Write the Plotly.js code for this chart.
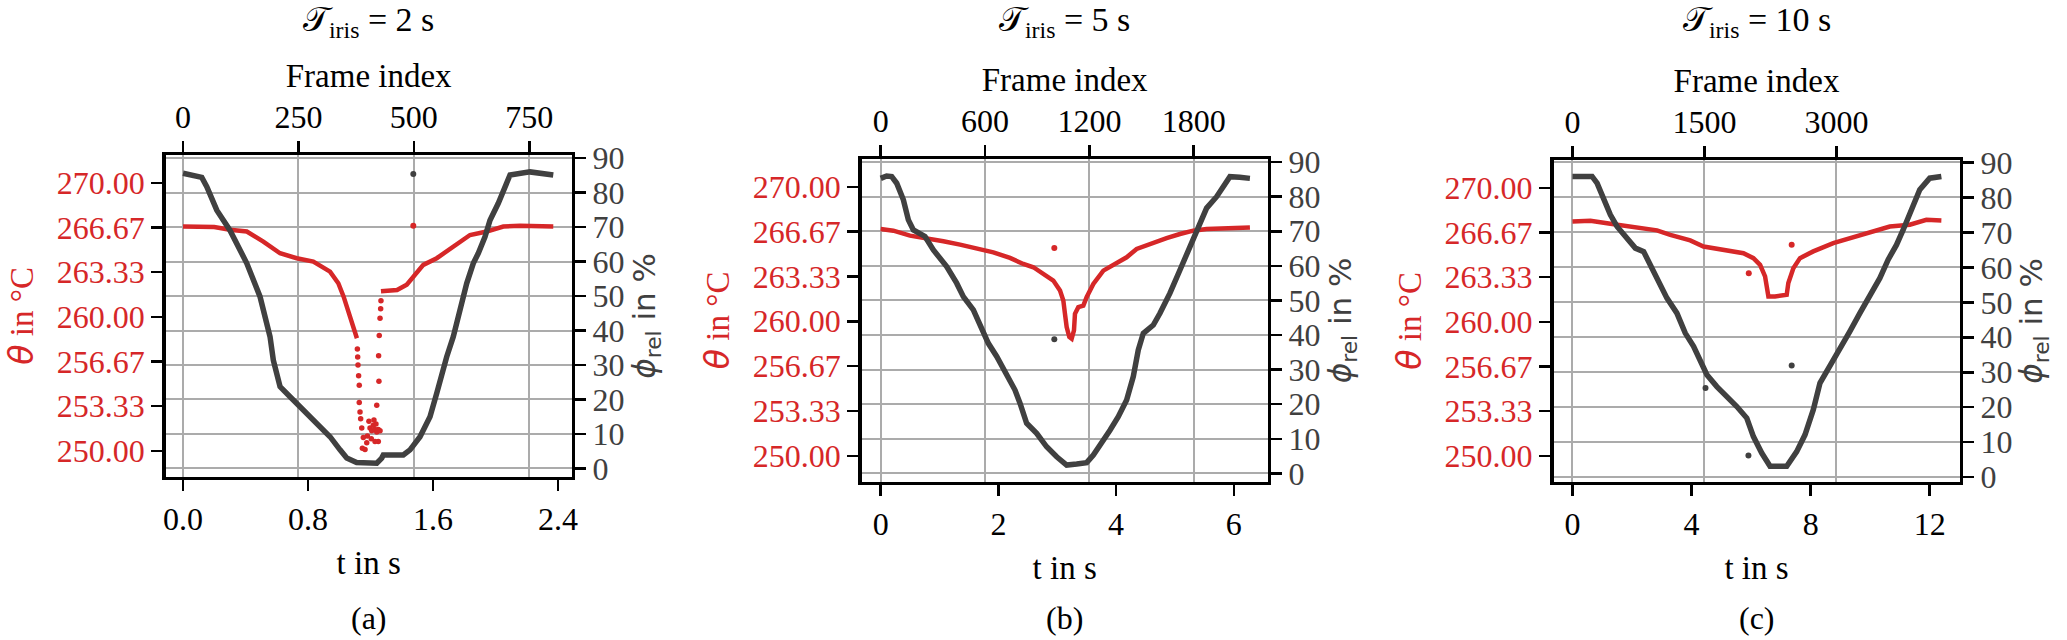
<!DOCTYPE html>
<html>
<head>
<meta charset="utf-8">
<script src="https://cdn.plot.ly/plotly-3.0.1.min.js"></script>
<style>
  html, body { margin: 0; padding: 0; background: #fff; }
  #chart { width: 2067px; height: 640px; }
</style>
</head>
<body>
<div id="chart"></div>
<script>
  "use strict";

  const FPS = 338.4;

  // ---- panel (a), T_iris = 2 s ----
  const aPhiT = [0, 0.06, 0.12, 0.152, 0.216, 0.30, 0.408, 0.493, 0.557, 0.578, 0.60, 0.621, 0.685, 0.77, 0.856,
    0.941, 1.005, 1.048, 1.111, 1.24, 1.272, 1.282, 1.41, 1.453, 1.517, 1.581, 1.624, 1.645, 1.688, 1.73, 1.773,
    1.816, 1.858, 1.89, 1.933, 1.965, 2.018, 2.05, 2.093, 2.221, 2.37];
  const aPhi = [85.6, 85.2, 84.4, 81.7, 74.9, 69.1, 59.5, 49.8, 38.2, 31.4, 27.6, 23.7, 20.8, 17.0, 13.1,
    9.2, 5.4, 3.0, 1.7, 1.5, 3.0, 3.9, 3.9, 5.4, 9.2, 15.0, 21.8, 25.7, 32.4, 38.2, 45.9,
    53.7, 59.5, 62.4, 67.2, 72.0, 76.9, 80.7, 85.1, 86.0, 85.1];
  const aTempT = [0, 0.10, 0.20, 0.30, 0.408, 0.514, 0.621, 0.728, 0.834, 0.941, 0.994, 1.028, 1.07, 1.10, 1.113,
    null, 1.267, 1.37, 1.432, 1.474, 1.538, 1.624, 1.73, 1.837, 1.944, 2.05, 2.157, 2.37];
  const aTemp = [266.73, 266.75, 266.70, 266.49, 266.36, 265.61, 264.74, 264.37, 264.12, 263.37, 262.5, 261.5, 260.0, 259.0, 258.4,
    null, 261.9, 262.0, 262.4, 263.0, 263.87, 264.37, 265.24, 266.1, 266.36, 266.73, 266.79, 266.73];
  // single frames inside the fast temperature drop
  const aDipT = [1.116, 1.118, 1.120, 1.124, 1.128, 1.128, 1.133, 1.137, 1.144, 1.154, 1.148, 1.165, 1.176, 1.180,
    1.19, 1.197, 1.205, 1.208, 1.218, 1.222, 1.229, 1.235, 1.240, 1.250, 1.229, 1.250, 1.261, 1.240, 1.254,
    1.252, 1.256, 1.261, 1.265, 1.267];
  const aDip = [257.6, 257.0, 256.4, 255.6, 254.9, 253.6, 252.9, 252.4, 251.7, 251.0, 250.2, 250.1, 250.6, 251.1,
    252.2, 251.7, 250.9, 251.5, 251.9, 252.3, 251.6, 252.0, 251.4, 250.7, 250.7, 251.6, 251.5, 253.4, 255.2,
    257.1, 258.6, 259.9, 260.6, 261.2];
  const aOutT = [1.474];
  const aOutPhi = [85.4];
  const aOutTemp = [266.8];

  // ---- panel (b), T_iris = 5 s ----
  const bPhiT = [0, 0.1, 0.187, 0.272, 0.385, 0.47, 0.555, 0.753, 0.895, 1.121, 1.291, 1.404, 1.574, 1.716, 1.829,
    1.971, 2.141, 2.282, 2.367, 2.48, 2.65, 2.82, 2.99, 3.16, 3.33, 3.50, 3.613, 3.754, 3.896, 4.037, 4.179,
    4.292, 4.377, 4.462, 4.632, 4.745, 4.915, 5.085, 5.255, 5.368, 5.538, 5.708, 5.85, 5.934, 6.1, 6.274];
  const bPhi = [85.3, 86.0, 85.8, 83.9, 79.1, 73.3, 70.4, 68.5, 64.6, 59.8, 55.0, 51.1, 47.3, 42.4, 37.6,
    33.8, 28.9, 24.1, 20.3, 14.5, 11.6, 7.7, 4.8, 2.4, 2.7, 3.1, 5.3, 8.7, 12.5, 16.4, 21.2,
    28.0, 35.7, 40.5, 42.9, 46.3, 52.1, 58.8, 65.6, 70.4, 76.7, 80.0, 83.4, 85.8, 85.6, 85.3];
  const bTempT = [0, 0.215, 0.498, 0.781, 1.065, 1.348, 1.631, 1.914, 2.197, 2.424, 2.594, 2.763, 2.933, 3.047,
    3.103, 3.131, 3.16, 3.205, 3.245, 3.284, 3.301, 3.358, 3.443, 3.499, 3.613, 3.783, 4.009, 4.179, 4.349,
    4.575, 4.858, 5.085, 5.311, 5.538, 5.878, 6.274];
  const bTemp = [266.86, 266.74, 266.37, 266.19, 265.95, 265.70, 265.38, 265.13, 264.71, 264.26, 264.02, 263.52, 263.03, 262.29,
    261.55, 260.56, 259.57, 258.83, 258.70, 259.32, 260.56, 261.05, 261.17, 261.79, 262.78, 263.77, 264.39, 264.76, 265.38,
    265.75, 266.19, 266.49, 266.74, 266.86, 266.93, 266.98];
  const bDipT = [];
  const bDip = [];
  const bOutT = [2.95];
  const bOutPhi = [38.8];
  const bOutTemp = [265.45];

  // ---- panel (c), T_iris = 10 s ----
  const cPhiT = [0, 0.3, 0.659, 0.827, 1.05, 1.274, 1.497, 1.777, 2.112, 2.391, 2.615, 2.894, 3.173, 3.508, 3.788,
    4.067, 4.291, 4.514, 4.849, 5.184, 5.520, 5.855, 6.078, 6.358, 6.637, 7.196, 7.531, 7.81, 8.09, 8.313,
    8.648, 8.983, 9.318, 9.654, 9.989, 10.324, 10.603, 10.883, 11.106, 11.385, 11.665, 12.0, 12.391];
  const cPhi = [86.0, 86.1, 86.0, 84.1, 79.8, 75.0, 71.7, 68.8, 65.5, 64.5, 60.7, 55.5, 51.2, 46.9, 41.2,
    37.4, 33.6, 29.3, 25.9, 23.1, 20.2, 16.9, 11.6, 6.9, 3.1, 3.1, 7.3, 12.1, 19.3, 26.9,
    32.1, 36.9, 41.7, 46.9, 52.1, 56.9, 62.2, 66.4, 70.7, 76.5, 82.2, 85.5, 86.0];
  const cTempT = [0, 0.603, 1.274, 2.056, 2.838, 3.285, 3.955, 4.402, 5.073, 5.743, 6.078, 6.302, 6.469, 6.581,
    6.804, 7.196, 7.251, 7.419, 7.642, 8.089, 8.76, 9.318, 9.989, 10.66, 11.33, 11.888, 12.391];
  const cTemp = [267.49, 267.54, 267.31, 267.06, 266.82, 266.49, 266.07, 265.62, 265.37, 265.12, 264.75, 264.25, 263.38, 261.89,
    261.89, 262.01, 262.89, 264.0, 264.75, 265.25, 265.87, 266.24, 266.74, 267.11, 267.24, 267.61, 267.56];
  const cDipT = [];
  const cDip = [];
  const cOutPhiT = [4.469, 5.911, 7.363];
  const cOutPhi = [25.5, 6.2, 31.9];
  const cOutTempT = [5.922, 7.363];
  const cOutTemp = [263.63, 265.75];

  // ---- ticks ----
  const tempTicks = [250, 253.333, 256.667, 260, 263.333, 266.667, 270];
  const tempTickText = ['250.00', '253.33', '256.67', '260.00', '263.33', '266.67', '270.00'];
  const phiTicks = [0, 10, 20, 30, 40, 50, 60, 70, 80, 90];
  const aTimeTicks = [0, 0.8, 1.6, 2.4];
  const aTimeTickText = ['0.0', '0.8', '1.6', '2.4'];
  const bTimeTicks = [0, 2, 4, 6];
  const cTimeTicks = [0, 4, 8, 12];
  const aFrameTicks = [0, 250, 500, 750];
  const bFrameTicks = [0, 600, 1200, 1800];
  const cFrameTicks = [0, 1500, 3000];
  const irisTimes = ['2', '5', '10'];
  const captions = ['(a)', '(b)', '(c)'];

  const RED = '#d62728', GRAY = '#404040', GRID = '#ababab';
  const SERIF = 'Liberation Serif, Times New Roman, serif';
  const SANS = 'DejaVu Sans, sans-serif';
  const W = 2067, H = 640;

  // box edges in pixels for the three panels
  let panels = [
    {left: 165.7, right: 571.7, top: 155, bottom: 476.7, tRange: [-0.111, 2.488], phiRange: [-2.4, 90.9],
      tTicks: aTimeTicks, tText: aTimeTickText, fTicks: aFrameTicks,
      phi: [aPhiT, aPhi], temp: [aTempT, aTemp], dip: [aDipT, aDip],
      outPhi: [aOutT, aOutPhi], outTemp: [aOutT, aOutTemp]},
    {left: 861.7, right: 1267.7, top: 159, bottom: 481.7, tRange: [-0.323, 6.576], phiRange: [-2.4, 90.9],
      tTicks: bTimeTicks, tText: bTimeTicks.map(String), fTicks: bFrameTicks,
      phi: [bPhiT, bPhi], temp: [bTempT, bTemp], dip: [bDipT, bDip],
      outPhi: [bOutT, bOutPhi], outTemp: [bOutT, bOutTemp]},
    {left: 1553.5, right: 1959.5, top: 160, bottom: 481.7, tRange: [-0.637, 13.0], phiRange: [-1.3, 90.7],
      tTicks: cTimeTicks, tText: cTimeTicks.map(String), fTicks: cFrameTicks,
      phi: [cPhiT, cPhi], temp: [cTempT, cTemp], dip: [cDipT, cDip],
      outPhi: [cOutPhiT, cOutPhi], outTemp: [cOutTempT, cOutTemp]},
  ];

  let traces = [], annotations = [];
  let layout = {
    width: W, height: H,
    margin: {l: 0, r: 0, t: 0, b: 0},
    paper_bgcolor: '#fff', plot_bgcolor: '#fff',
    showlegend: false,
    font: {family: SERIF, size: 32, color: '#000'},
  };

  const toFrames = t => t.map(v => v === null ? null : v * FPS);
  const id = n => (n === 1 ? '' : String(n));

  panels.forEach((p, i) => {
    let k = 2 * i + 1;  // bottom time axis / left temperature axis
    let k2 = k + 1;     // top frame axis / right phi axis
    let xd = [p.left / W, p.right / W];
    let yd = [1 - p.bottom / H, 1 - p.top / H];
    let common = {
      showline: true, linewidth: 3.5, linecolor: '#000', zeroline: false,
      ticks: 'outside', ticklen: 11, tickwidth: 2.5, tickcolor: '#000',
    };

    layout['xaxis' + id(k)] = Object.assign({}, common, {
      domain: xd, anchor: 'y' + id(k), side: 'bottom', range: p.tRange,
      tickvals: p.tTicks, ticktext: p.tText, showgrid: false,
      tickfont: {family: SERIF, size: 32, color: '#000'},
      title: {text: 't in s', font: {family: SERIF, size: 33}, standoff: 16},
    });
    layout['xaxis' + id(k2)] = Object.assign({}, common, {
      overlaying: 'x' + id(k), anchor: 'y' + id(k), side: 'top',
      range: p.tRange.map(v => v * FPS), tickvals: p.fTicks,
      showgrid: true, gridcolor: GRID, gridwidth: 2,
      tickfont: {family: SERIF, size: 32, color: '#000'},
      title: {text: 'Frame index', font: {family: SERIF, size: 33}, standoff: 2},
    });
    layout['yaxis' + id(k)] = Object.assign({}, common, {
      domain: yd, anchor: 'x' + id(k), side: 'left', range: [248.07, 272.07],
      tickvals: tempTicks, ticktext: tempTickText, showgrid: false,
      tickfont: {family: SERIF, size: 32, color: RED},
      title: {
        text: '<span style="font-family:DejaVu Sans"><i>θ</i></span> in °C',
        font: {family: SERIF, size: 33, color: RED}, standoff: 14,
      },
    });
    layout['yaxis' + id(k2)] = Object.assign({}, common, {
      overlaying: 'y' + id(k), anchor: 'x' + id(k), side: 'right', range: p.phiRange,
      tickvals: phiTicks, showgrid: true, gridcolor: GRID, gridwidth: 2,
      tickfont: {family: SERIF, size: 32, color: GRAY},
      title: {text: '<i>ϕ</i><sub>rel</sub> in %', font: {family: SANS, size: 31, color: GRAY}, standoff: 10},
    });

    // temperature on the time axis / left axis
    traces.push({
      x: p.temp[0], y: p.temp[1], xaxis: 'x' + id(k), yaxis: 'y' + id(k),
      mode: 'lines', line: {color: RED, width: 4.5}, connectgaps: false, hoverinfo: 'skip',
    });
    traces.push({
      x: p.dip[0], y: p.dip[1], xaxis: 'x' + id(k), yaxis: 'y' + id(k),
      mode: 'markers', marker: {color: RED, size: 5.5}, hoverinfo: 'skip',
    });
    traces.push({
      x: p.outTemp[0], y: p.outTemp[1], xaxis: 'x' + id(k), yaxis: 'y' + id(k),
      mode: 'markers', marker: {color: RED, size: 6}, hoverinfo: 'skip',
    });
    // relative iris opening on the frame axis / right axis
    traces.push({
      x: toFrames(p.phi[0]), y: p.phi[1], xaxis: 'x' + id(k2), yaxis: 'y' + id(k2),
      mode: 'lines', line: {color: GRAY, width: 5.5}, hoverinfo: 'skip',
    });
    traces.push({
      x: toFrames(p.outPhi[0]), y: p.outPhi[1], xaxis: 'x' + id(k2), yaxis: 'y' + id(k2),
      mode: 'markers', marker: {color: GRAY, size: 6}, hoverinfo: 'skip',
    });

    let cx = (p.left + p.right) / 2 / W;
    annotations.push({
      xref: 'paper', yref: 'paper', x: cx, y: 1 - 22 / H, xanchor: 'center', yanchor: 'middle',
      showarrow: false, font: {family: SERIF, size: 34, color: '#000'},
      text: '𝒯<sub>iris</sub> = ' + irisTimes[i] + ' s',
    });
    annotations.push({
      xref: 'paper', yref: 'paper', x: cx, y: 1 - 618 / H, xanchor: 'center', yanchor: 'middle',
      showarrow: false, font: {family: SERIF, size: 32, color: '#000'},
      text: captions[i],
    });
  });

  layout.annotations = annotations;

  Plotly.newPlot('chart', traces, layout, {displayModeBar: false, staticPlot: true});
</script>
</body>
</html>
